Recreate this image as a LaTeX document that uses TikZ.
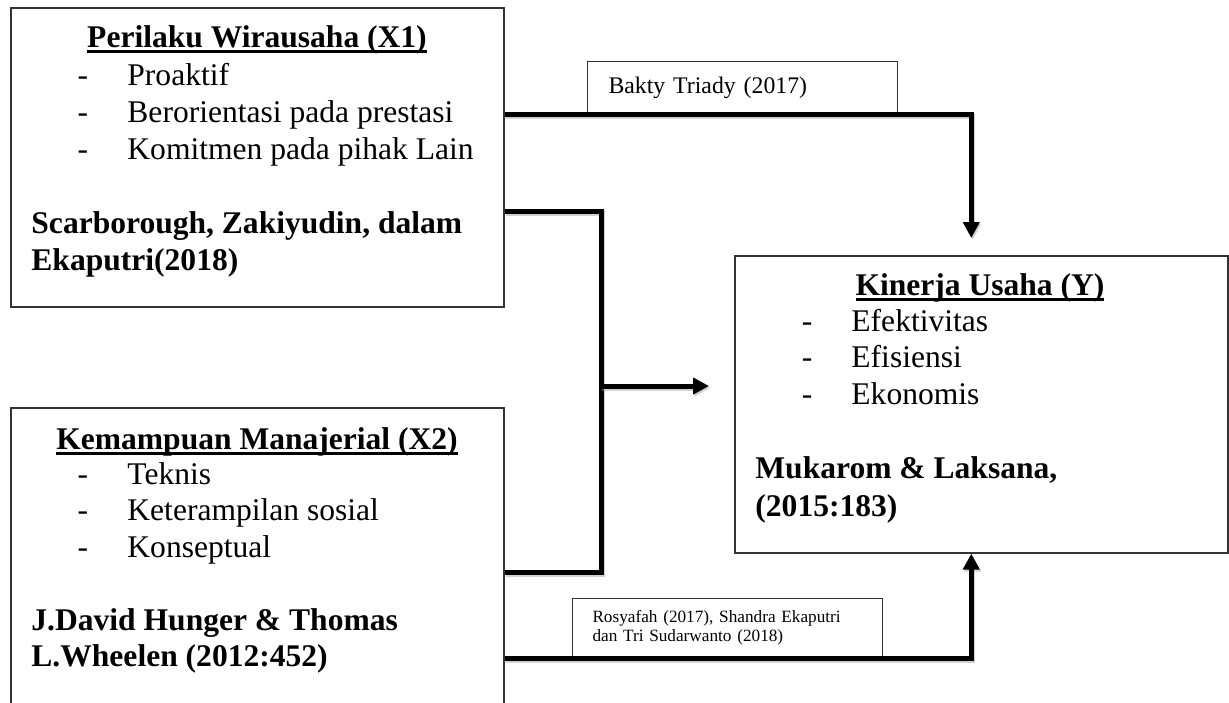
\documentclass[tikz,border=0pt]{standalone}
\usepackage{fontspec}
\setmainfont{Liberation Serif}
\usepackage{tikz}
\usetikzlibrary{arrows.meta, calc}
\newcommand{\undl}[1]{\setbox0\hbox{#1}\rlap{\rule[-2.6pt]{\wd0}{1.1pt}}\box0}
\newcommand{\bodyfont}{\fontsize{14.2pt}{16.6pt}\selectfont}

\begin{document}
\begin{tikzpicture}[x=0.45pt, y=-0.45pt,
	box/.style={draw=black!80, line width=0.7pt, anchor=north west, inner sep=0pt, minimum width=221.85pt},
	tag/.style={draw=black!80, line width=0.45pt, anchor=north west, inner ysep=0pt, align=left},
	title/.style={anchor=base, font=\bodyfont\bfseries, inner sep=0pt},
	bullet/.style={anchor=base, font=\bodyfont, inner sep=0pt},
	item/.style={anchor=base west, font=\bodyfont, inner sep=0pt},
	source/.style={anchor=base west, font=\bodyfont\bfseries, inner sep=0pt},
	conn/.style={line width=2.25pt, preaction={draw=black!40, opacity=0.45, line width=2.25pt, transform canvas={shift={(0.6pt,-0.9pt)}}}},
	tip/.style={-{Triangle[length=7.2pt, width=7.2pt]}}
]

	\useasboundingbox (0,0) rectangle (1229,702);
	\clip (0,0) rectangle (1229,702);

	% the three boxes
	\node[box, minimum height=134.55pt] (x1) at (10,7) {};
	\node[box, minimum height=141pt] (x2) at (10,407) {};
	\node[box, minimum height=133.65pt] (y) at (734,255) {};

	% X1
	\node[title] (x1t) at (257,47) {\undl{Perilaku Wirausaha (X1)}};
	\foreach \txt/\yy [count=\i] in {Proaktif/85, Berorientasi pada prestasi/122, Komitmen pada pihak Lain/159} {
		\node[bullet] (x1d\i) at (83,\yy) {-};
		\node[item] (x1i\i) at (127,\yy) {\txt};
	}
	\node[source] (x1s1) at (31,233) {Scarborough, Zakiyudin, dalam};
	\node[source] (x1s2) at (31,270) {Ekaputri(2018)};

	% X2
	\node[title] (x2t) at (257,449) {\undl{Kemampuan Manajerial (X2)}};
	\foreach \txt/\yy [count=\i] in {Teknis/484, Keterampilan sosial/520, Konseptual/557} {
		\node[bullet] (x2d\i) at (83,\yy) {-};
		\node[item] (x2i\i) at (127,\yy) {\txt};
	}
	\node[source] (x2s1) at (31,630) {J.David Hunger \& Thomas};
	\node[source] (x2s2) at (31,666) {L.Wheelen (2012:452)};

	% Y
	\node[title] (yt) at (980,295) {\undl{Kinerja Usaha (Y)}};
	\foreach \txt/\yy [count=\i] in {Efektivitas/331, Efisiensi/367, Ekonomis/404} {
		\node[bullet] (yd\i) at (807,\yy) {-};
		\node[item] (yi\i) at (851,\yy) {\txt};
	}
	\node[source] (ys1) at (755,478) {Mukarom \& Laksana,};
	\node[source] (ys2) at (755,516) {(2015:183)};

	% labels on the connectors
	\node[tag, inner xsep=9.45pt, text width=120.6pt, minimum height=23.4pt, font=\fontsize{10.7pt}{12pt}\selectfont] (bakty) at (587,61) {Bakty Triady (2017)};
	\node[tag, inner xsep=9pt, text width=121.5pt, minimum height=26.55pt, font=\fontsize{7.75pt}{8.55pt}\selectfont] (rosy) at (572,598) {Rosyafah (2017), Shandra Ekaputri\\dan Tri Sudarwanto (2018)};

	\coordinate (join) at (601,386);

	\draw[conn, tip] (x1.east |- bakty.south) -| ($ (y.north)+(-10,-17) $);
	\draw[conn] ($ (x1.north east)+(0,204) $) -| (join) |- ($ (x2.north east)+(0,165) $);
	\draw[conn, tip, shorten >=11.25pt] (join) -- (join -| y.west);
	\draw[conn, tip] (x2.east |- rosy.south) -| ($ (y.south)+(-10,0) $);

\end{tikzpicture}
\end{document}
